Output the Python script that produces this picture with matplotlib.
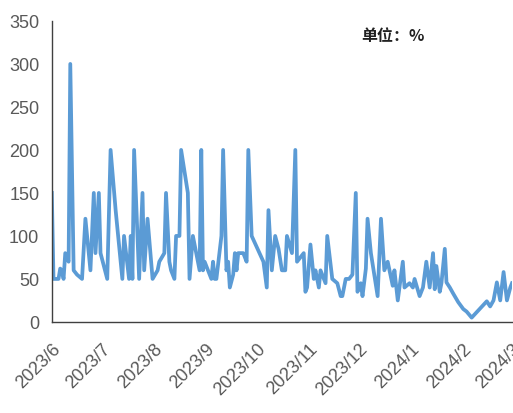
import matplotlib
matplotlib.use("Agg")
import matplotlib.pyplot as plt
import pandas as pd

dates = [
    "2023-06-01", "2023-06-02", "2023-06-05", "2023-06-06", "2023-06-07", "2023-06-08", "2023-06-09",
    "2023-06-11", "2023-06-12", "2023-06-14", "2023-06-16", "2023-06-19", "2023-06-21", "2023-06-24",
    "2023-06-26", "2023-06-27", "2023-06-29", "2023-06-30", "2023-07-04", "2023-07-06", "2023-07-09",
    "2023-07-13", "2023-07-14", "2023-07-17", "2023-07-18", "2023-07-19", "2023-07-20", "2023-07-23",
    "2023-07-25", "2023-07-26", "2023-07-28", "2023-07-31", "2023-08-03", "2023-08-04", "2023-08-07",
    "2023-08-08", "2023-08-10", "2023-08-11", "2023-08-13", "2023-08-14", "2023-08-16", "2023-08-17",
    "2023-08-21", "2023-08-22", "2023-08-24", "2023-08-28", "2023-08-29", "2023-08-30", "2023-08-31",
    "2023-09-02", "2023-09-04", "2023-09-05", "2023-09-06", "2023-09-07", "2023-09-10", "2023-09-11",
    "2023-09-13", "2023-09-14", "2023-09-15", "2023-09-17", "2023-09-18", "2023-09-19", "2023-09-20",
    "2023-09-23", "2023-09-25", "2023-09-26", "2023-09-28", "2023-10-05", "2023-10-07", "2023-10-08",
    "2023-10-10", "2023-10-12", "2023-10-14", "2023-10-16", "2023-10-18", "2023-10-19", "2023-10-22",
    "2023-10-24", "2023-10-25", "2023-10-29", "2023-10-30", "2023-10-31", "2023-11-02", "2023-11-04",
    "2023-11-05", "2023-11-07", "2023-11-08", "2023-11-11", "2023-11-12", "2023-11-15", "2023-11-18",
    "2023-11-20", "2023-11-21", "2023-11-23", "2023-11-25", "2023-11-27", "2023-11-29", "2023-11-30",
    "2023-12-02", "2023-12-03", "2023-12-05", "2023-12-06", "2023-12-08", "2023-12-12", "2023-12-14",
    "2023-12-16", "2023-12-18", "2023-12-21", "2023-12-22", "2023-12-24", "2023-12-27", "2023-12-28",
    "2023-12-31", "2024-01-02", "2024-01-03", "2024-01-06", "2024-01-08", "2024-01-10", "2024-01-12",
    "2024-01-14", "2024-01-15", "2024-01-16", "2024-01-18", "2024-01-19", "2024-01-21", "2024-01-22",
    "2024-01-24", "2024-01-26", "2024-01-29", "2024-02-01", "2024-02-03", "2024-02-06", "2024-02-15",
    "2024-02-17", "2024-02-19", "2024-02-21", "2024-02-23", "2024-02-25", "2024-02-27", "2024-02-29",
    "2024-03-01",
]
values = [
    150, 50, 50, 62, 60, 50, 80,
    70, 300, 60, 55, 50, 120, 60,
    150, 80, 150, 80, 50, 200, 130,
    50, 100, 50, 100, 50, 200, 50,
    150, 60, 120, 50, 60, 70, 80,
    150, 70, 60, 50, 100, 100, 200,
    150, 50, 100, 60, 200, 60, 70,
    60, 50, 70, 50, 50, 100, 200,
    60, 70, 40, 55, 80, 60, 80,
    80, 70, 200, 100, 70, 40, 130,
    60, 100, 85, 60, 60, 100, 80,
    200, 70, 80, 35, 40, 90, 50,
    60, 40, 60, 45, 100, 50, 45,
    30, 30, 50, 50, 55, 150, 35,
    45, 30, 62, 120, 80, 30, 120,
    60, 70, 42, 60, 25, 70, 40,
    45, 40, 50, 30, 40, 70, 40,
    80, 38, 65, 35, 45, 85, 46,
    40, 33, 23, 15, 12, 5, 24,
    18, 25, 46, 25, 58, 25, 40,
    45,
]
month_ticks = ["2023-06-01", "2023-07-01", "2023-08-01", "2023-09-01", "2023-10-01",
               "2023-11-01", "2023-12-01", "2024-01-01", "2024-02-01", "2024-03-01"]
month_labels = ["2023/6", "2023/7", "2023/8", "2023/9", "2023/10",
                "2023/11", "2023/12", "2024/1", "2024/2", "2024/3"]
y_ticks = [0, 50, 100, 150, 200, 250, 300, 350]
unit_text = "单位：%"

plt.rcParams['font.family'] = ['Liberation Sans', 'Noto Sans CJK SC', 'DejaVu Sans']

x = pd.to_datetime(dates)
fig = plt.figure(figsize=(5.13, 4.14), dpi=100)
ax = fig.add_axes([0.101, 0.22, 0.897, 0.727])
ax.plot(x, values, color="#5B9BD5", linewidth=2.7, solid_joinstyle="round")

xt = pd.to_datetime(month_ticks)
ax.set_xlim(xt[0], xt[-1])
ax.set_ylim(0, 350)
ax.set_yticks(y_ticks)
ax.set_xticks(xt)
ax.set_xticklabels(month_labels, rotation=45, ha="right", va="top",
                   rotation_mode="anchor", fontsize=13, color="#595959")
for lab in ax.get_yticklabels():
    lab.set_fontsize(13)
    lab.set_color("#595959")
ax.tick_params(axis="both", length=0)
ax.tick_params(axis="x", pad=13)
ax.tick_params(axis="y", pad=9)
for s in ["top", "right"]:
    ax.spines[s].set_visible(False)
for s in ["left", "bottom"]:
    ax.spines[s].set_color("#404040")
    ax.spines[s].set_linewidth(1.0)

fig.text(0.705, 0.912, unit_text, fontsize=11.5, color="#222222", va="center",
         family=['Noto Sans CJK SC', 'DejaVu Sans'], fontweight="bold")

fig.savefig("out.png", dpi=100)
